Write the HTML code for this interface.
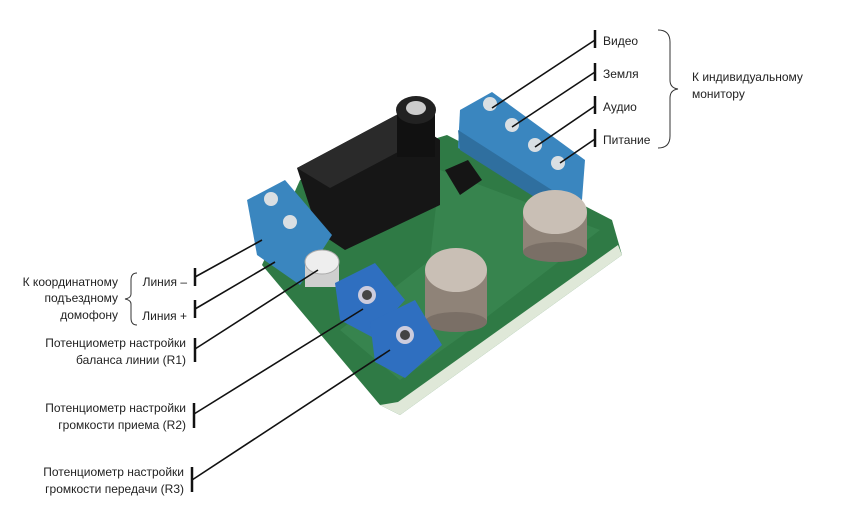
<!DOCTYPE html>
<html><head><meta charset="utf-8"><style>
body{margin:0;background:#fff;}
svg{display:block}
text{font-family:"Liberation Sans","Noto Sans CJK SC",sans-serif;font-size:12px;fill:#222}
</style></head><body>
<svg width="857" height="523" viewBox="0 0 857 523" xmlns="http://www.w3.org/2000/svg">
<rect width="857" height="523" fill="#fff"/>
<!-- PCB -->
<polygon points="300,180 447,135 612,220 622,255 400,415 380,405 262,265" fill="#2f7a45"/>
<polygon points="380,405 400,415 622,255 618,245 398,402" fill="#dfe8d8"/>
<polygon points="440,170 600,230 470,330 400,380 340,330 430,260" fill="#3d8a55" opacity="0.6"/>
<!-- relay -->
<polygon points="297,168 400,113 440,140 440,205 345,250 318,232" fill="#161616"/>
<polygon points="297,168 400,113 430,135 330,188" fill="#2a2a2a"/>
<!-- black cap -->
<rect x="397" y="112" width="38" height="45" fill="#111"/>
<ellipse cx="416" cy="110" rx="20" ry="14" fill="#222"/>
<ellipse cx="416" cy="108" rx="10" ry="7" fill="#ccc"/>
<!-- small IC -->
<polygon points="445,170 468,160 482,180 460,195" fill="#151515"/>
<!-- right terminal -->
<polygon points="460,110 492,92 585,160 582,200 555,192 458,148" fill="#3a86bf"/>
<polygon points="458,130 555,192 582,200 555,210 460,150" fill="#2f6f9f"/>
<circle cx="490" cy="104" r="7" fill="#d9dfe3"/><circle cx="512" cy="125" r="7" fill="#d9dfe3"/>
<circle cx="535" cy="145" r="7" fill="#d9dfe3"/><circle cx="558" cy="163" r="7" fill="#d9dfe3"/>
<!-- left terminal -->
<polygon points="247,200 285,180 332,235 300,285 257,255" fill="#3a86bf"/>
<circle cx="271" cy="199" r="7" fill="#d9dfe3"/><circle cx="290" cy="222" r="7" fill="#d9dfe3"/>
<!-- silver caps -->
<rect x="523" y="212" width="64" height="40" fill="#8f8378"/>
<ellipse cx="555" cy="252" rx="32" ry="10" fill="#7a6f66"/>
<ellipse cx="555" cy="212" rx="32" ry="22" fill="#c9bfb5"/>
<rect x="425" y="272" width="62" height="50" fill="#8f8378"/>
<ellipse cx="456" cy="322" rx="31" ry="10" fill="#7a6f66"/>
<ellipse cx="456" cy="270" rx="31" ry="22" fill="#c9bfb5"/>
<!-- white trimmer -->
<rect x="305" y="262" width="34" height="25" fill="#cfcfcf"/>
<ellipse cx="322" cy="262" rx="17" ry="12" fill="#eee" stroke="#aaa"/>
<!-- blue pots -->
<polygon points="335,283 375,263 405,300 372,337 340,320" fill="#2f6fc0"/>
<circle cx="367" cy="295" r="9" fill="#ccd" /><circle cx="367" cy="295" r="5" fill="#444"/>
<polygon points="370,322 415,300 442,345 405,378 375,362" fill="#2f6fc0"/>
<circle cx="405" cy="335" r="9" fill="#ccd"/><circle cx="405" cy="335" r="5" fill="#444"/>
<!-- leader lines -->
<g stroke="#111" stroke-width="1.6" fill="none">
<line x1="595" y1="40" x2="492" y2="108"/>
<line x1="595" y1="72" x2="512" y2="127"/>
<line x1="595" y1="106" x2="535" y2="147"/>
<line x1="595" y1="139" x2="560" y2="163"/>
<line x1="195" y1="277" x2="262" y2="240"/>
<line x1="195" y1="309" x2="275" y2="262"/>
<line x1="195" y1="349" x2="318" y2="270"/>
<line x1="194" y1="414" x2="363" y2="309"/>
<line x1="192" y1="480" x2="390" y2="350"/>
</g>
<g stroke="#111" stroke-width="2.5">
<line x1="595" y1="30" x2="595" y2="48"/>
<line x1="595" y1="63" x2="595" y2="81"/>
<line x1="595" y1="96" x2="595" y2="114"/>
<line x1="595" y1="129" x2="595" y2="147"/>
<line x1="195" y1="268" x2="195" y2="286"/>
<line x1="195" y1="300" x2="195" y2="318"/>
<line x1="195" y1="338" x2="195" y2="362"/>
<line x1="194" y1="403" x2="194" y2="428"/>
<line x1="192" y1="467" x2="192" y2="492"/>
</g>
<!-- braces -->
<path d="M658,30 Q670,30 670,42 L670,80 Q670,88 678,89 Q670,90 670,98 L670,136 Q670,148 658,148" stroke="#333" fill="none"/>
<path d="M137,273 Q131,273 131,280 L131,294 Q131,298 125,299 Q131,300 131,304 L131,318 Q131,325 137,325" stroke="#333" fill="none"/>
<!-- texts -->
<text x="603" y="45">Видео</text>
<text x="603" y="78">Земля</text>
<text x="603" y="111">Аудио</text>
<text x="603" y="144">Питание</text>
<text x="692" y="81">К индивидуальному</text>
<text x="692" y="98">монитору</text>
<g text-anchor="end">
<text x="118" y="286">К координатному</text>
<text x="118" y="302">подъездному</text>
<text x="118" y="319">домофону</text>
<text x="187" y="286">Линия –</text>
<text x="187" y="320">Линия +</text>
<text x="186" y="347">Потенциометр настройки</text>
<text x="186" y="364">баланса линии (R1)</text>
<text x="186" y="412">Потенциометр настройки</text>
<text x="186" y="429">громкости приема (R2)</text>
<text x="184" y="476">Потенциометр настройки</text>
<text x="184" y="493">громкости передачи (R3)</text>
</g>
</svg>
</body></html>
